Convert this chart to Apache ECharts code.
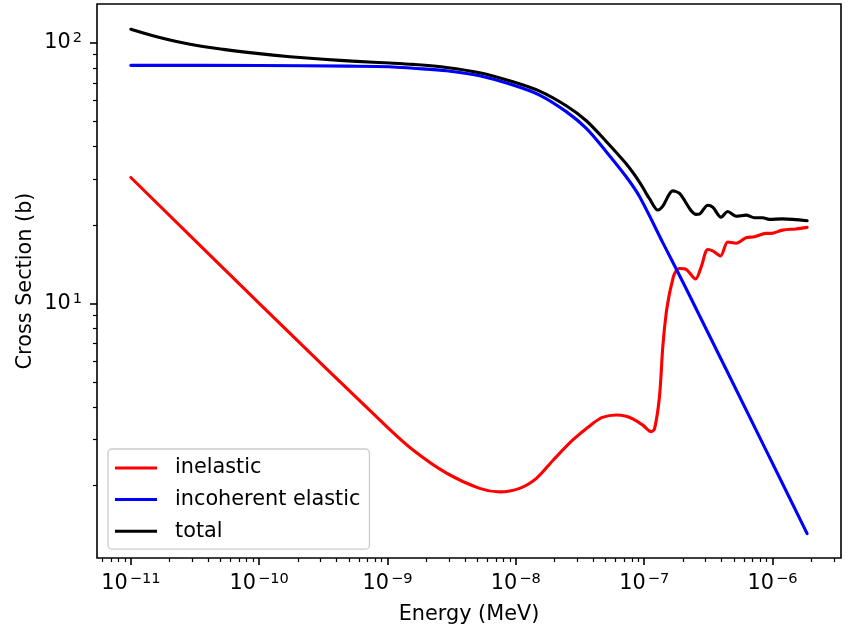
<!DOCTYPE html>
<html><head><meta charset="utf-8">
<script src="https://cdn.jsdelivr.net/npm/echarts@6/dist/echarts.min.js"></script>
<style>html,body{margin:0;padding:0;background:#fff}#c{width:851px;height:628px}</style>
</head><body><div id="c"></div>
<script>
// ---- data ----
const inelasticE = [1e-11, 1e-10, 1e-9, 1.58e-9, 2.88e-9, 5.22e-9, 7.48e-9, 1.07e-8, 1.445e-8, 1.95e-8, 2.78e-8, 3.98e-8, 4.72e-8, 6.05e-8, 7.24e-8, 8.15e-8, 9.75e-8, 1.133e-7, 1.202e-7, 1.315e-7, 1.396e-7, 1.483e-7, 1.574e-7, 1.652e-7, 1.722e-7, 1.884e-7, 2.12e-7, 2.51e-7, 2.78e-7, 3.13e-7, 3.42e-7, 3.93e-7, 4.48e-7, 5.20e-7, 6.22e-7, 7.22e-7, 8.89e-7, 9.73e-7, 1.197e-6, 1.523e-6, 1.86e-6];
const inelasticXS = [30.4, 10.0, 3.34, 2.735, 2.23, 1.95, 1.89, 1.95, 2.13, 2.50, 2.99, 3.46, 3.65, 3.73, 3.69, 3.60, 3.41, 3.22, 3.29, 4.38, 6.82, 9.15, 10.9, 12.1, 13.0, 13.6, 13.5, 12.4, 13.8, 16.1, 15.9, 15.2, 17.2, 17.0, 17.85, 18.0, 18.56, 18.56, 19.1, 19.3, 19.57];

const incohE = [1e-11, 1e-10, 5e-10, 1.04e-9, 1.58e-9, 2.88e-9, 5.22e-9, 9.48e-9, 1.53e-8, 2.47e-8, 3.54e-8, 5.06e-8, 7.24e-8, 9.19e-8, 1.396e-7, 2.12e-7, 8.89e-7, 1.86e-6];
const incohXS = [81.9, 81.8, 81.3, 80.9, 79.8, 78.1, 74.7, 68.8, 63.0, 54.4, 46.9, 38.2, 30.6, 25.7, 17.1, 11.4, 2.735, 1.308];

const totalE = [1e-11, 1.59e-11, 2.89e-11, 5.26e-11, 9.57e-11, 1.74e-10, 3.16e-10, 5.74e-10, 1.04e-9, 1.58e-9, 2.88e-9, 5.22e-9, 9.48e-9, 1.53e-8, 2.47e-8, 3.54e-8, 5.06e-8, 7.24e-8, 9.19e-8, 1.037e-7, 1.10e-7, 1.277e-7, 1.396e-7, 1.67e-7, 1.884e-7, 2.54e-7, 2.69e-7, 3.13e-7, 3.42e-7, 3.97e-7, 4.48e-7, 5.20e-7, 6.22e-7, 7.22e-7, 8.37e-7, 9.44e-7, 1.197e-6, 1.86e-6];
const totalXS = [112.6, 105.4, 98.6, 94.3, 91.0, 88.4, 86.4, 84.8, 83.6, 82.6, 80.4, 76.7, 70.8, 65.2, 57.3, 50.2, 41.8, 34.3, 29.2, 26.4, 25.2, 22.8, 23.6, 27.0, 26.4, 21.95, 22.0, 23.8, 23.4, 21.4, 22.5, 21.6, 21.8, 21.3, 21.3, 21.0, 21.1, 20.75];

const seriesNames = ['inelastic', 'incoherent elastic', 'total'];

const xMajorTicks = [1e-11, 1e-10, 1e-9, 1e-8, 1e-7, 1e-6];
const xTickExponents = ['−11', '−10', '−9', '−8', '−7', '−6'];
const yMajorTicks = [10, 100];
const yTickExponents = ['1', '2'];
const xMinorTicks = [6e-12, 7e-12, 8e-12, 9e-12,
  2e-11, 3e-11, 4e-11, 5e-11, 6e-11, 7e-11, 8e-11, 9e-11,
  2e-10, 3e-10, 4e-10, 5e-10, 6e-10, 7e-10, 8e-10, 9e-10,
  2e-9, 3e-9, 4e-9, 5e-9, 6e-9, 7e-9, 8e-9, 9e-9,
  2e-8, 3e-8, 4e-8, 5e-8, 6e-8, 7e-8, 8e-8, 9e-8,
  2e-7, 3e-7, 4e-7, 5e-7, 6e-7, 7e-7, 8e-7, 9e-7,
  2e-6, 3e-6];
const yMinorTicks = [2, 3, 4, 5, 6, 7, 8, 9, 20, 30, 40, 50, 60, 70, 80, 90];

const xMin = 5.45e-12, xMax = 3.415e-6, yMin = 1.054, yMax = 140.8;

// ---- chart ----
const FONT = 'DejaVu Sans';
const zip = (a, b) => a.map((v, i) => [v, b[i]]);
function powLabel(ticks, exps) {
  return function (v) {
    let best = 0, bd = Infinity;
    ticks.forEach((t, i) => { const d = Math.abs(Math.log10(t) - Math.log10(v)); if (d < bd) { bd = d; best = i; } });
    if (bd > 1e-6) return '';
    return '{b|10}{s|' + exps[best] + '}';
  };
}
const richLabel = {
  b: { fontFamily: FONT, fontSize: 20.8, lineHeight: 24, color: '#000' },
  s: { fontFamily: FONT, fontSize: 14.6, lineHeight: 12, verticalAlign: 'top', color: '#000', padding: [0, 0, 0, 2] }
};
const tickStyleMajor = { color: '#000', width: 1.6 };
const tickStyleMinor = { color: '#000', width: 1.2 };

const lineSeries = (name, e, xs, color) => ({
  name, type: 'line', data: zip(e, xs), symbol: 'none', showSymbol: false,
  smooth: 0.3,
  lineStyle: { color, width: 3.1, join: 'round', cap: 'round' }, itemStyle: { color },
  xAxisIndex: 0, yAxisIndex: 0
});

const chart = echarts.init(document.getElementById('c'), null, { renderer: 'canvas' });
chart.setOption({
  animation: false,
  backgroundColor: '#ffffff',
  grid: { left: 97, top: 4, width: 744, height: 554, show: true, borderColor: '#000', borderWidth: 1.6, backgroundColor: 'transparent', containLabel: false, outerBoundsMode: 'none' },
  legend: {
    orient: 'vertical', left: 108, top: 449,
    padding: [7, 9, 6, 7],
    itemWidth: 42, itemHeight: 3, itemGap: 7.6,
    icon: 'rect',
    backgroundColor: 'rgba(255,255,255,0.8)', borderColor: '#cccccc', borderWidth: 1.3, borderRadius: 4,
    textStyle: { fontFamily: FONT, fontSize: 20.8, color: '#000', lineHeight: 24, padding: [0, 0, 0, 13] },
    data: seriesNames
  },
  xAxis: [
    {
      type: 'log', logBase: 10, min: xMin, max: xMax, position: 'bottom',
      axisLine: { show: false }, splitLine: { show: false }, minorTick: { show: false },
      axisTick: { show: true, customValues: xMajorTicks, length: 7, lineStyle: tickStyleMajor },
      axisLabel: { show: true, customValues: xMajorTicks, formatter: powLabel(xMajorTicks, xTickExponents), margin: 14, rich: richLabel },
      name: 'Energy (MeV)', nameLocation: 'middle', nameGap: 45, nameMoveOverlap: false,
      nameTextStyle: { fontFamily: FONT, fontSize: 20.8, color: '#000', lineHeight: 24 }
    },
    {
      type: 'log', logBase: 10, min: xMin, max: xMax, position: 'bottom', offset: 0,
      axisLine: { show: false }, splitLine: { show: false }, axisLabel: { show: false },
      axisTick: { show: true, customValues: xMinorTicks, length: 4, lineStyle: tickStyleMinor }
    }
  ],
  yAxis: [
    {
      type: 'log', logBase: 10, min: yMin, max: yMax, position: 'left',
      axisLine: { show: false }, splitLine: { show: false }, minorTick: { show: false },
      axisTick: { show: true, customValues: yMajorTicks, length: 7, lineStyle: tickStyleMajor },
      axisLabel: { show: true, customValues: yMajorTicks, formatter: powLabel(yMajorTicks, yTickExponents), margin: 15, rich: richLabel },
      name: 'Cross Section (b)', nameLocation: 'middle', nameGap: 59, nameMoveOverlap: false,
      nameTextStyle: { fontFamily: FONT, fontSize: 20.8, color: '#000', lineHeight: 24 }
    },
    {
      type: 'log', logBase: 10, min: yMin, max: yMax, position: 'left', offset: 0,
      axisLine: { show: false }, splitLine: { show: false }, axisLabel: { show: false },
      axisTick: { show: true, customValues: yMinorTicks, length: 4, lineStyle: tickStyleMinor }
    }
  ],
  series: [
    lineSeries(seriesNames[0], inelasticE, inelasticXS, '#ff0000'),
    lineSeries(seriesNames[1], incohE, incohXS, '#0000ff'),
    lineSeries(seriesNames[2], totalE, totalXS, '#000000')
  ]
});
</script>
</body></html>
